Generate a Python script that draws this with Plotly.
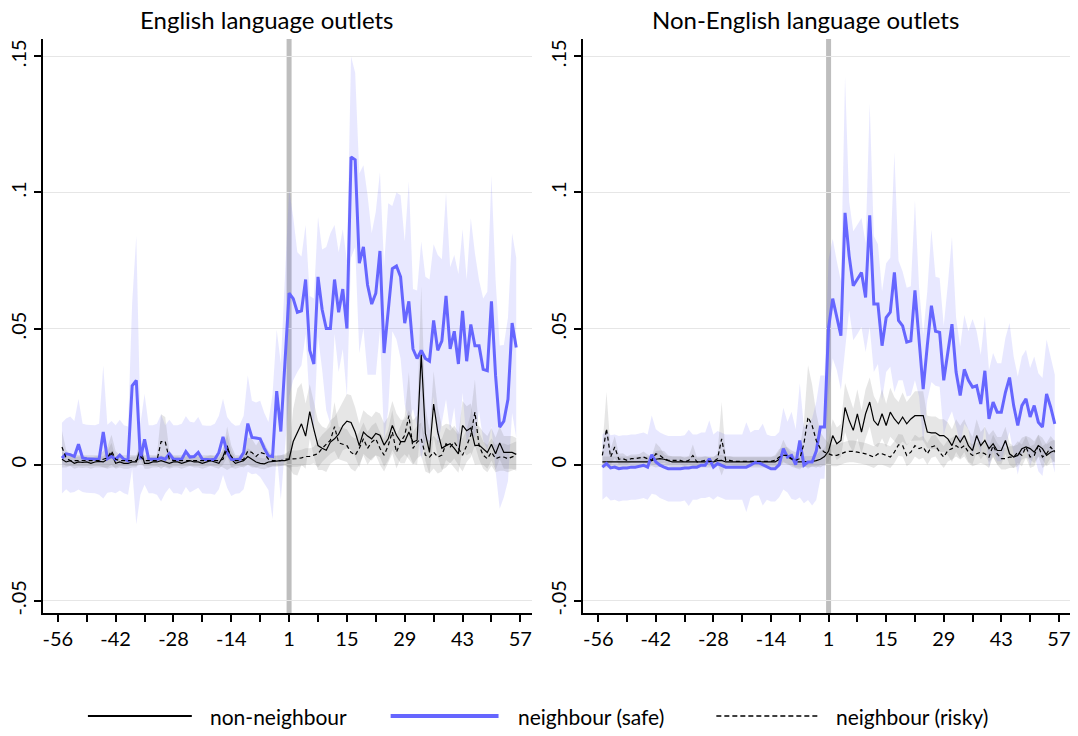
import plotly.graph_objects as go

# ---------------- data ----------------
weeks = list(range(-55, 0)) + list(range(1, 57))
tick_weeks = [-56, -42, -28, -14, 1, 15, 29, 43, 57]
treatment_week = 1
y_ticks = [-0.05, 0, 0.05, 0.1, 0.15]
y_tick_labels = ["-.05", "0", ".05", ".1", ".15"]
panel_titles = ["English language outlets", "Non-English language outlets"]
series_names = ["non-neighbour", "neighbour (safe)", "neighbour (risky)"]

# English panel
en_safe = [0.0024, 0.004, 0.0037, 0.003, 0.0075, 0.0025, 0.0022, 0.002, 0.002, 0.002,
           0.012, 0.0022, 0.003, 0.002, 0.0035, 0.002, 0.0015, 0.029, 0.031, 0.002,
           0.0093, 0.002, 0.002, 0.002, 0.0025, 0.002, 0.004, 0.002, 0.002, 0.002,
           0.0048, 0.0028, 0.003, 0.0045, 0.002, 0.0018, 0.0018, 0.002, 0.0045, 0.0102,
           0.0045, 0.002, 0.0018, 0.002, 0.0045, 0.0151, 0.010, 0.0098, 0.0095, 0.006,
           0.0032, 0.003, 0.027, 0.0122, 0.037,
           0.063, 0.061, 0.056, 0.0565, 0.068, 0.042, 0.037, 0.069, 0.057, 0.050,
           0.050, 0.068, 0.056, 0.0645, 0.050, 0.113, 0.112, 0.074, 0.080, 0.066,
           0.059, 0.063, 0.0785, 0.041, 0.058, 0.072, 0.073, 0.069, 0.052, 0.060,
           0.0425, 0.039, 0.042, 0.039, 0.038, 0.053, 0.042, 0.0455, 0.062, 0.0425,
           0.049, 0.037, 0.0565, 0.038, 0.0515, 0.0437, 0.0437, 0.035, 0.0345, 0.060,
           0.0327, 0.0138, 0.016, 0.024, 0.052, 0.043]
en_safe_ci = [0.013, 0.013, 0.014, 0.013, 0.0166, 0.0125, 0.0125, 0.0125, 0.0125, 0.013,
              0.0244, 0.0125, 0.013, 0.0125, 0.013, 0.0125, 0.0125, 0.0305, 0.053, 0.013,
              0.0167, 0.0125, 0.0125, 0.013, 0.016, 0.0125, 0.0125, 0.0125, 0.0125, 0.013,
              0.013, 0.013, 0.0125, 0.013, 0.0125, 0.0125, 0.0125, 0.013, 0.0135, 0.014,
              0.013, 0.0135, 0.0125, 0.0125, 0.0135, 0.0177, 0.0135, 0.013, 0.014, 0.013,
              0.0125, 0.023, 0.0226, 0.025, 0.03,
              0.038, 0.030, 0.022, 0.02, 0.02, 0.02, 0.024, 0.022, 0.022, 0.03,
              0.035, 0.02, 0.022, 0.022, 0.025, 0.037, 0.032, 0.033, 0.030, 0.033,
              0.026, 0.03, 0.029, 0.032, 0.038, 0.023, 0.027, 0.03, 0.03, 0.044,
              0.022, 0.025, 0.04, 0.03, 0.03, 0.028, 0.035, 0.03, 0.038, 0.03,
              0.028, 0.033, 0.03, 0.03, 0.039, 0.034, 0.024, 0.026, 0.029, 0.046,
              0.035, 0.03, 0.028, 0.03, 0.033, 0.033]
en_non = [0.002, 0.001, 0.0015, 0.0005, 0.001, 0.0008, 0.001, 0.0005, 0.001, 0.0012,
          0.001, 0.002, 0.004, 0.0005, 0.001, 0.0005, 0.0005, 0.001, 0.001, 0.006,
          0.0005, 0.0005, 0.001, 0.001, 0.0015, 0.001, 0.0005, 0.001, 0.001, 0.0005,
          0.001, 0.0015, 0.001, 0.001, 0.0005, 0.001, 0.0015, 0.001, 0.0005, 0.003,
          0.007, 0.002, 0.0005, 0.001, 0.0015, 0.003, 0.002, 0.001, 0.0005, 0.0003,
          0.001, 0.0012, 0.0012, 0.0015, 0.0015,
          0.002, 0.0085, 0.012, 0.015, 0.0105, 0.0195, 0.013, 0.007, 0.006, 0.0053,
          0.0083, 0.0095, 0.0112, 0.0143, 0.016, 0.0155, 0.012, 0.007, 0.012, 0.0105,
          0.0095, 0.0115, 0.0108, 0.0072, 0.0095, 0.0144, 0.0108, 0.0085, 0.0085, 0.012,
          0.0083, 0.009, 0.0405, 0.0115, 0.0045, 0.0223, 0.012, 0.006, 0.007, 0.0077,
          0.006, 0.004, 0.0144, 0.0125, 0.0135, 0.007, 0.0072, 0.006, 0.0045, 0.0075,
          0.004, 0.008, 0.0045, 0.0045, 0.0045, 0.0038]
en_non_ci = [0.003, 0.002, 0.002, 0.002, 0.002, 0.002, 0.002, 0.002, 0.002, 0.002,
             0.002, 0.003, 0.004, 0.002, 0.002, 0.002, 0.002, 0.002, 0.002, 0.004,
             0.002, 0.002, 0.002, 0.002, 0.002, 0.002, 0.002, 0.002, 0.002, 0.002,
             0.002, 0.002, 0.002, 0.002, 0.002, 0.002, 0.002, 0.002, 0.002, 0.003,
             0.004, 0.003, 0.002, 0.002, 0.002, 0.003, 0.003, 0.002, 0.002, 0.002,
             0.002, 0.002, 0.002, 0.002, 0.002,
             0.003, 0.012, 0.016, 0.015, 0.012, 0.01, 0.01, 0.009, 0.008, 0.008,
             0.008, 0.008, 0.009, 0.009, 0.01, 0.01, 0.009, 0.008, 0.008, 0.008,
             0.008, 0.008, 0.008, 0.008, 0.008, 0.009, 0.008, 0.008, 0.008, 0.008,
             0.008, 0.009, 0.025, 0.01, 0.008, 0.012, 0.009, 0.008, 0.008, 0.007,
             0.007, 0.007, 0.009, 0.009, 0.009, 0.007, 0.007, 0.006, 0.006, 0.006,
             0.006, 0.006, 0.006, 0.006, 0.006, 0.006]
en_risky = [0.0065, 0.0025, 0.0015, 0.0015, 0.0015, 0.0015, 0.0015, 0.0015, 0.0015, 0.0015,
            0.002, 0.0025, 0.005, 0.002, 0.0015, 0.0015, 0.0015, 0.0015, 0.0015, 0.003,
            0.0015, 0.0015, 0.0015, 0.0015, 0.0085, 0.0085, 0.002, 0.0015, 0.0015, 0.0015,
            0.0015, 0.0015, 0.0015, 0.0015, 0.0015, 0.0015, 0.0015, 0.0015, 0.0015, 0.002,
            0.006, 0.003, 0.0015, 0.0015, 0.002, 0.005, 0.0045, 0.003, 0.0045, 0.004,
            0.002, 0.0015, 0.0015, 0.0015, 0.002,
            0.002, 0.0022, 0.0022, 0.0025, 0.003, 0.003, 0.0035, 0.004, 0.006, 0.0075,
            0.009, 0.014, 0.008, 0.0075, 0.007, 0.0045, 0.0035, 0.006, 0.0095, 0.006,
            0.0083, 0.0095, 0.006, 0.0035, 0.007, 0.012, 0.0046, 0.0083, 0.0108, 0.018,
            0.006, 0.0083, 0.0095, 0.0035, 0.0028, 0.0046, 0.0028, 0.0035, 0.0077, 0.0065,
            0.0083, 0.006, 0.0035, 0.007, 0.0108, 0.0193, 0.007, 0.0035, 0.0022, 0.0046,
            0.0022, 0.0028, 0.0028, 0.0022, 0.0028, 0.0035]
en_risky_ci = [0.006, 0.003, 0.002, 0.002, 0.002, 0.002, 0.002, 0.002, 0.002, 0.002,
               0.003, 0.004, 0.006, 0.003, 0.002, 0.002, 0.002, 0.002, 0.002, 0.003,
               0.002, 0.002, 0.002, 0.002, 0.01, 0.009, 0.003, 0.002, 0.002, 0.002,
               0.002, 0.002, 0.002, 0.002, 0.002, 0.002, 0.002, 0.002, 0.002, 0.003,
               0.008, 0.004, 0.002, 0.002, 0.003, 0.005, 0.005, 0.004, 0.005, 0.004,
               0.003, 0.002, 0.002, 0.002, 0.002,
               0.003, 0.003, 0.003, 0.003, 0.003, 0.003, 0.003, 0.005, 0.005, 0.005,
               0.005, 0.009, 0.006, 0.006, 0.006, 0.006, 0.006, 0.006, 0.006, 0.006,
               0.006, 0.006, 0.006, 0.006, 0.006, 0.008, 0.006, 0.006, 0.007, 0.016,
               0.006, 0.006, 0.006, 0.006, 0.006, 0.006, 0.006, 0.006, 0.006, 0.006,
               0.006, 0.006, 0.006, 0.006, 0.008, 0.012, 0.005, 0.005, 0.005, 0.005,
               0.005, 0.005, 0.005, 0.005, 0.005, 0.005]

# Non-English panel
ne_safe = [-0.0009, 0.0004, -0.0012, -0.0009, -0.0015, -0.0012, -0.0012, -0.0009, -0.0009, -0.0006,
           -0.0002, -0.0009, 0.0037, 0.001, -0.0002, -0.0009, -0.0015, -0.0015, -0.0015, -0.0015,
           -0.0012, -0.0012, -0.0009, -0.0009, -0.0002, -0.0002, 0.0022, -0.0009, 0.0004, -0.0002,
           -0.0009, -0.0009, -0.0009, -0.0009, -0.0009, -0.0009, -0.0002, 0.0007, 0.0007, 0.0,
           -0.0009, -0.0015, -0.0015, 0.0, 0.0059, 0.0028, 0.0034, 0.0, 0.0089, -0.0002,
           0.001, 0.001, 0.005, 0.0138, 0.0138,
           0.0504, 0.061, 0.0547, 0.0474, 0.0925, 0.0767, 0.0657, 0.068, 0.0706, 0.0614,
           0.0916, 0.059, 0.059, 0.0437, 0.054, 0.056, 0.0706, 0.053, 0.051, 0.045,
           0.0455, 0.064, 0.045, 0.0278, 0.0437, 0.0584, 0.049, 0.0486, 0.031, 0.0413,
           0.0516, 0.034, 0.0254, 0.035, 0.031, 0.0285, 0.029, 0.0223, 0.0345, 0.0168,
           0.023, 0.0193, 0.0193, 0.0266, 0.032, 0.0217, 0.0144, 0.0217, 0.0242, 0.0175,
           0.0217, 0.0156, 0.0138, 0.026, 0.0211, 0.015]
ne_safe_ci = [0.012, 0.012, 0.012, 0.012, 0.012, 0.012, 0.012, 0.012, 0.012, 0.012,
              0.012, 0.012, 0.0144, 0.012, 0.012, 0.012, 0.012, 0.012, 0.012, 0.012,
              0.012, 0.014, 0.012, 0.012, 0.012, 0.012, 0.014, 0.012, 0.012, 0.012,
              0.012, 0.012, 0.012, 0.012, 0.012, 0.0165, 0.012, 0.012, 0.012, 0.015,
              0.012, 0.012, 0.012, 0.012, 0.015, 0.013, 0.016, 0.013, 0.021, 0.014,
              0.014, 0.016, 0.018, 0.019, 0.019,
              0.025, 0.022, 0.02, 0.02, 0.05, 0.02, 0.02, 0.02, 0.02, 0.02,
              0.041, 0.025, 0.022, 0.02, 0.02, 0.02, 0.044, 0.022, 0.02, 0.02,
              0.02, 0.033, 0.02, 0.02, 0.02, 0.028, 0.02, 0.02, 0.02, 0.025,
              0.032, 0.02, 0.018, 0.02, 0.018, 0.025, 0.02, 0.018, 0.02, 0.018,
              0.018, 0.018, 0.018, 0.02, 0.02, 0.018, 0.018, 0.018, 0.018, 0.018,
              0.018, 0.018, 0.018, 0.02, 0.018, 0.018]
ne_non = [0.001, 0.001, 0.001, 0.001, 0.001, 0.001, 0.001, 0.001, 0.001, 0.001,
          0.001, 0.001, 0.0015, 0.002, 0.0022, 0.002, 0.0015, 0.001, 0.001, 0.001,
          0.001, 0.001, 0.001, 0.001, 0.001, 0.001, 0.001, 0.001, 0.0015, 0.0016,
          0.001, 0.001, 0.001, 0.001, 0.001, 0.001, 0.001, 0.001, 0.001, 0.001,
          0.001, 0.001, 0.001, 0.002, 0.0052, 0.003, 0.002, 0.001, 0.001, 0.001,
          0.0012, 0.0012, 0.0015, 0.002, 0.003,
          0.005, 0.0107, 0.0077, 0.0089, 0.021, 0.0162, 0.0126, 0.0187, 0.012, 0.0187,
          0.023, 0.0162, 0.0144, 0.0187, 0.0144, 0.0193, 0.0168, 0.015, 0.0175, 0.015,
          0.0168, 0.018, 0.018, 0.018, 0.012, 0.0117, 0.0117, 0.0107, 0.0107, 0.0095,
          0.007, 0.0107, 0.0083, 0.0107, 0.007, 0.0052, 0.0107, 0.007, 0.0089, 0.0059,
          0.0077, 0.0052, 0.0052, 0.0089, 0.004, 0.0028, 0.0034, 0.0059, 0.0065, 0.0059,
          0.0046, 0.007, 0.0059, 0.0034, 0.0046, 0.0052]
ne_non_ci = [0.002, 0.002, 0.002, 0.002, 0.002, 0.002, 0.002, 0.002, 0.002, 0.002,
             0.002, 0.002, 0.002, 0.003, 0.003, 0.003, 0.002, 0.002, 0.002, 0.002,
             0.002, 0.002, 0.002, 0.002, 0.002, 0.002, 0.002, 0.002, 0.002, 0.002,
             0.002, 0.002, 0.002, 0.002, 0.002, 0.002, 0.002, 0.002, 0.002, 0.002,
             0.002, 0.002, 0.002, 0.003, 0.004, 0.003, 0.002, 0.002, 0.002, 0.002,
             0.002, 0.002, 0.002, 0.003, 0.003,
             0.004, 0.006, 0.006, 0.006, 0.009, 0.009, 0.008, 0.009, 0.008, 0.009,
             0.009, 0.009, 0.008, 0.009, 0.008, 0.009, 0.008, 0.008, 0.009, 0.008,
             0.008, 0.009, 0.009, 0.009, 0.006, 0.006, 0.006, 0.006, 0.006, 0.006,
             0.006, 0.006, 0.006, 0.006, 0.006, 0.005, 0.006, 0.005, 0.005, 0.005,
             0.005, 0.005, 0.005, 0.005, 0.004, 0.004, 0.004, 0.004, 0.004, 0.004,
             0.004, 0.004, 0.004, 0.004, 0.004, 0.004]
ne_risky = [0.0034, 0.0132, 0.0028, 0.0065, 0.002, 0.0022, 0.0016, 0.0022, 0.0022, 0.0024,
            0.0028, 0.0022, 0.0016, 0.004, 0.0034, 0.0022, 0.0016, 0.0016, 0.0016, 0.0016,
            0.001, 0.0016, 0.0034, 0.001, 0.0012, 0.0016, 0.0012, 0.0012, 0.0022, 0.0095,
            0.0016, 0.0016, 0.0012, 0.0012, 0.001, 0.0012, 0.0012, 0.001, 0.0012, 0.0012,
            0.001, 0.0012, 0.0016, 0.0028, 0.0034, 0.0034, 0.0022, 0.0016, 0.0022, 0.0077,
            0.0175, 0.0144, 0.0089, 0.0059, 0.0046,
            0.004, 0.0034, 0.0034, 0.004, 0.0046, 0.0049, 0.0049, 0.0046, 0.0043, 0.004,
            0.0034, 0.0028, 0.004, 0.004, 0.0034, 0.0028, 0.0046, 0.0073, 0.007, 0.0034,
            0.0046, 0.007, 0.0059, 0.0065, 0.004, 0.0065, 0.007, 0.0046, 0.0028, 0.0052,
            0.0059, 0.007, 0.0059, 0.007, 0.0046, 0.0034, 0.004, 0.0046, 0.004, 0.0028,
            0.007, 0.004, 0.0022, 0.0022, 0.0028, 0.0028, 0.0046, 0.0034, 0.0065, 0.0028,
            0.0034, 0.007, 0.0028, 0.004, 0.0065, 0.0046]
ne_risky_ci = [0.003, 0.0135, 0.003, 0.004, 0.002, 0.002, 0.0015, 0.0015, 0.0015, 0.0015,
               0.002, 0.0015, 0.0015, 0.004, 0.003, 0.0015, 0.0015, 0.0015, 0.0015, 0.0015,
               0.0015, 0.0015, 0.004, 0.0015, 0.0015, 0.0015, 0.0015, 0.0015, 0.002, 0.0135,
               0.0015, 0.0015, 0.0015, 0.0015, 0.0015, 0.0015, 0.0015, 0.0015, 0.0015, 0.0015,
               0.0015, 0.0015, 0.002, 0.003, 0.003, 0.003, 0.003, 0.003, 0.004, 0.008,
               0.019, 0.015, 0.01, 0.006, 0.005,
               0.004, 0.004, 0.004, 0.004, 0.004, 0.004, 0.004, 0.004, 0.004, 0.004,
               0.004, 0.004, 0.004, 0.004, 0.004, 0.004, 0.004, 0.004, 0.004, 0.004,
               0.004, 0.004, 0.004, 0.004, 0.004, 0.004, 0.004, 0.004, 0.004, 0.004,
               0.004, 0.004, 0.004, 0.004, 0.004, 0.004, 0.004, 0.004, 0.004, 0.004,
               0.004, 0.004, 0.004, 0.004, 0.004, 0.004, 0.004, 0.004, 0.004, 0.004,
               0.004, 0.004, 0.004, 0.004, 0.004, 0.004]

panels = [
    dict(non=en_non, non_ci=en_non_ci, safe=en_safe, safe_ci=en_safe_ci, risky=en_risky, risky_ci=en_risky_ci),
    dict(non=ne_non, non_ci=ne_non_ci, safe=ne_safe, safe_ci=ne_safe_ci, risky=ne_risky, risky_ci=ne_risky_ci),
]
for p in panels:
    for k, v in p.items():
        assert len(v) == len(weeks), (k, len(v))

# ---------------- styling ----------------
FONT = "Lato"
BLUE = "rgb(102,102,255)"
BLUE_BAND = "rgba(102,102,255,0.15)"
GRAY_BAND = "rgba(128,128,128,0.2)"


def pos(w):
    # event weeks skip zero: plot on a continuous index
    return w if w < 0 else w - 1


xs = [pos(w) for w in weeks]
tick_pos_all = list(range(pos(tick_weeks[0]), pos(tick_weeks[-1]) + 1, 7))
label_map = {pos(w): str(w) for w in tick_weeks}
tick_text_all = [label_map.get(t, "") for t in tick_pos_all]


def band(x, y, ci, color, xa, ya):
    up = [a + b for a, b in zip(y, ci)]
    lo = [a - b for a, b in zip(y, ci)]
    return go.Scatter(x=x + x[::-1], y=up + lo[::-1], fill="toself", fillcolor=color,
                      line=dict(width=0), mode="lines", hoverinfo="skip",
                      showlegend=False, xaxis=xa, yaxis=ya)


fig = go.Figure()
axes = [("x", "y"), ("x2", "y2")]
for p, (xa, ya) in zip(panels, axes):
    fig.add_trace(band(xs, p["safe"], p["safe_ci"], BLUE_BAND, xa, ya))
    fig.add_trace(band(xs, p["non"], p["non_ci"], GRAY_BAND, xa, ya))
    fig.add_trace(band(xs, p["risky"], p["risky_ci"], GRAY_BAND, xa, ya))
    fig.add_trace(go.Scatter(x=xs, y=p["non"], mode="lines", name=series_names[0],
                             line=dict(color="black", width=1.2), showlegend=False,
                             xaxis=xa, yaxis=ya))
    fig.add_trace(go.Scatter(x=xs, y=p["safe"], mode="lines", name=series_names[1],
                             line=dict(color=BLUE, width=3), showlegend=False,
                             xaxis=xa, yaxis=ya))
    fig.add_trace(go.Scatter(x=xs, y=p["risky"], mode="lines", name=series_names[2],
                             line=dict(color="black", width=1.2, dash="4px,3px"),
                             showlegend=False, xaxis=xa, yaxis=ya))

W, H = 1078, 736
dom_x = [[42 / W, 531 / W], [583 / W, 1070 / W]]
dom_y = [1 - 615 / H, 1 - 39 / H]
x_range = [-59.6, 58.7]
y_range = [-0.0546, 0.1564]

axis_common = dict(showline=True, linecolor="black", linewidth=2, ticks="outside",
                   ticklen=7, tickwidth=1.5, tickcolor="black", zeroline=False,
                   tickfont=dict(family=FONT, size=20, color="black"))

layout = dict(width=W, height=H, margin=dict(l=0, r=0, t=0, b=0),
              paper_bgcolor="white", plot_bgcolor="white", showlegend=False,
              font=dict(family=FONT, color="black"))
for i, name in enumerate(["", "2"]):
    layout["xaxis" + name] = dict(domain=dom_x[i], range=x_range, tickvals=tick_pos_all,
                                  ticktext=tick_text_all, showgrid=False,
                                  anchor="y" + name, **axis_common)
    layout["yaxis" + name] = dict(domain=dom_y, range=y_range, tickvals=y_ticks,
                                  ticktext=y_tick_labels, tickangle=-90,
                                  showgrid=True, gridcolor="#E6E6E6", gridwidth=1,
                                  anchor="x" + name, **axis_common)
fig.update_layout(**layout)

shapes = []
annotations = []
title_centers = [265.5, 805]
for i, (xa, ya) in enumerate(axes):
    shapes.append(dict(type="line", xref=xa, yref=ya + " domain",
                       x0=pos(treatment_week), x1=pos(treatment_week), y0=0, y1=1,
                       line=dict(color="#BEBEBE", width=5), layer="below"))
    annotations.append(dict(text=panel_titles[i], xref="paper", yref="paper",
                            x=title_centers[i] / W, y=1 - 20 / H,
                            showarrow=False, xanchor="center", yanchor="middle",
                            font=dict(family=FONT, size=24, color="black")))

# manual legend (paper coordinates)
leg_y = 1 - 718 / H
leg_items = [
    (series_names[0], (87, 191), 207, dict(color="black", width=2)),
    (series_names[1], (390, 498), 515, dict(color=BLUE, width=4)),
    (series_names[2], (716, 818), 834, dict(color="black", width=1.5, dash="5px,3px")),
]
for name, (x0, x1), tx, ln in leg_items:
    shapes.append(dict(type="line", xref="paper", yref="paper", x0=x0 / W, x1=x1 / W,
                       y0=leg_y, y1=leg_y, line=ln))
    annotations.append(dict(text=name, xref="paper", yref="paper", x=tx / W, y=leg_y,
                            xanchor="left", yanchor="middle", showarrow=False,
                            font=dict(family=FONT, size=21, color="black")))
fig.update_layout(shapes=shapes, annotations=annotations)

fig.write_html("out.html")
